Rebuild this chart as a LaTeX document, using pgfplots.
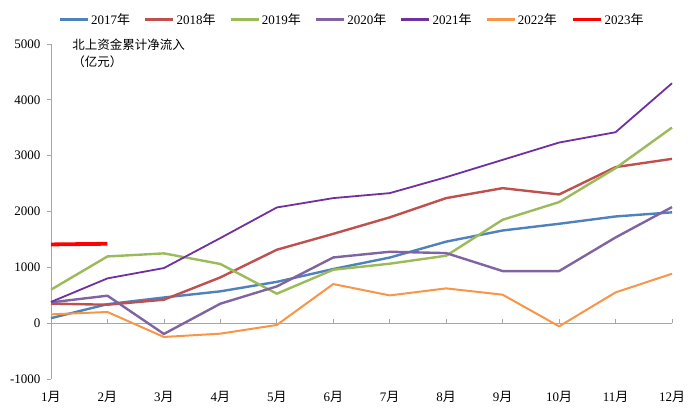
\documentclass[border=0pt]{standalone}
\usepackage{fontspec}
\setmainfont{Liberation Serif}
\newfontfamily\cjk{Noto Sans CJK SC}
\usepackage{pgfplots}
\usepackage{pgfplotstable}
\pgfplotsset{compat=1.18}
\definecolor{c17}{HTML}{4F81BD}
\definecolor{c18}{HTML}{C0504D}
\definecolor{c19}{HTML}{9BBB59}
\definecolor{c20}{HTML}{8064A2}
\definecolor{c21}{HTML}{7030A0}
\definecolor{c22}{HTML}{F79646}
\definecolor{c23}{HTML}{FF0000}
\definecolor{axgray}{HTML}{A6A6A6}
\pgfplotstableread{
m a17 a18 a19 a20 a21 a22
1 90 350 600 372 380 158
2 340 330 1195 492 802 200
3 460 420 1250 -193 987 -247
4 570 820 1060 349 1524 -188
5 740 1315 528 658 2072 -32
6 970 1600 957 1177 2240 701
7 1175 1895 1065 1279 2329 497
8 1460 2240 1208 1255 2615 623
9 1660 2418 1852 933 2925 510
10 1780 2305 2168 933 3235 -57
11 1911 2795 2776 1535 3420 551
12 1985 2943 3503 2079 4297 885
}\data
\begin{document}
\begin{tikzpicture}
\path[use as bounding box] (0,0) rectangle (700pt,414pt);
\begin{axis}[
  at={(51pt,35pt)}, anchor=south west,
  scale only axis, width=621pt, height=335pt,
  xmin=1, xmax=12, ymin=-1000, ymax=5000,
  axis lines*=left,
  x axis line style={draw=none},
  y axis line style={draw=axgray, line width=0.8pt},
  xtick={1,...,12},
  xticklabels={1{\cjk 月},2{\cjk 月},3{\cjk 月},4{\cjk 月},5{\cjk 月},6{\cjk 月},7{\cjk 月},8{\cjk 月},9{\cjk 月},10{\cjk 月},11{\cjk 月},12{\cjk 月}},
  x tick style={draw=none},
  ytick={-1000,0,1000,2000,3000,4000,5000},
  yticklabels={-1000,0,1000,2000,3000,4000,5000},
  y tick style={draw=axgray, line width=0.8pt},
  tick align=outside, major tick length=4pt,
  tick label style={font=\fontsize{13}{15}\selectfont},
  xticklabel style={yshift=-5pt},
  yticklabel style={xshift=-3pt},
  legend columns=-1,
  legend style={at={(0.485,1)}, anchor=south, yshift=14pt, draw=none, fill=none,
    font=\fontsize{13}{15}\selectfont,
    /tikz/every even column/.append style={column sep=12pt},
    nodes={inner xsep=2pt}},
  legend image code/.code={\draw[#1] (0pt,0pt) -- (28pt,0pt);},
  clip=false,
  line join=round,
]
\draw[axgray, line width=0.8pt] (axis cs:1,0) -- (axis cs:12,0);
\pgfplotsinvokeforeach{2,...,12}{\draw[axgray, line width=0.8pt] (axis cs:#1,0) -- ++(0pt,4pt);}
\addplot[c17, line width=2.4pt] table[x=m,y=a17]{\data};
\addlegendentry{2017{\cjk 年}}
\addplot[c18, line width=2.4pt] table[x=m,y=a18]{\data};
\addlegendentry{2018{\cjk 年}}
\addplot[c19, line width=2.4pt] table[x=m,y=a19]{\data};
\addlegendentry{2019{\cjk 年}}
\addplot[c20, line width=2.4pt] table[x=m,y=a20]{\data};
\addlegendentry{2020{\cjk 年}}
\addplot[draw=c21, line width=1.8pt, legend image post style={draw=c21, line width=2.2pt}] table[x=m,y=a21]{\data};
\addlegendentry{2021{\cjk 年}}
\addplot[draw=c22, line width=2pt, legend image post style={draw=c22, line width=2.2pt}] table[x=m,y=a22]{\data};
\addlegendentry{2022{\cjk 年}}
\addplot[c23, line width=3.8pt] coordinates {(1,1410) (2,1422)};
\addlegendentry{2023{\cjk 年}}
\node[anchor=north west, align=left, font=\cjk\fontsize{12.5}{17}\selectfont, inner sep=0pt]
  at (axis description cs:0.034,1.015) {北上资金累计净流入\\（亿元）};
\end{axis}
\end{tikzpicture}
\end{document}
